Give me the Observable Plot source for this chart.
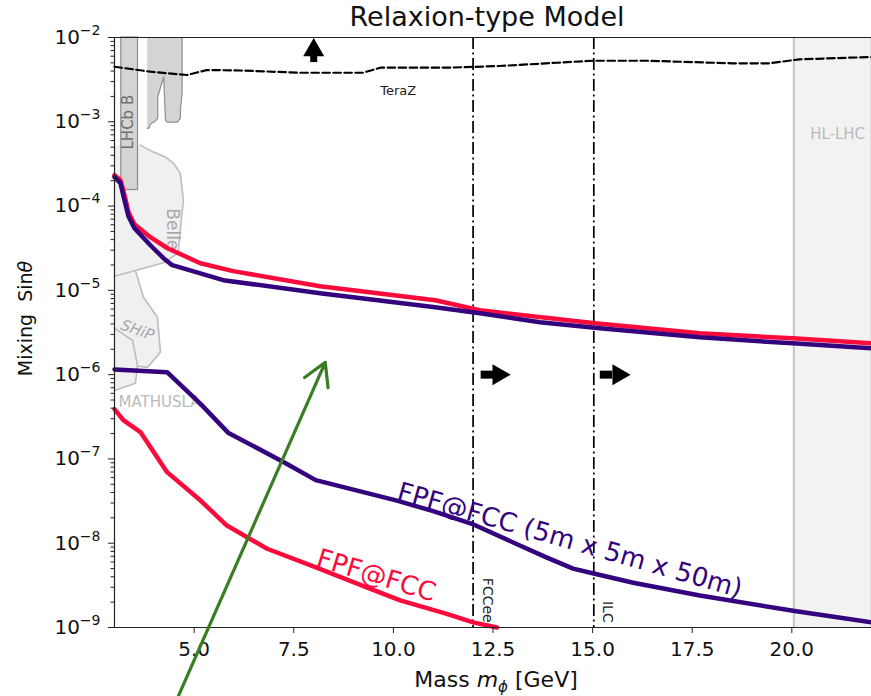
<!DOCTYPE html>
<html><head><meta charset="utf-8">
<script src="https://cdn.jsdelivr.net/npm/d3@7"></script>
<script src="https://cdn.jsdelivr.net/npm/@observablehq/plot@0.6"></script>
<style>body{margin:0;background:#fff;} svg{font-family:"DejaVu Sans";}</style>
</head><body><div id="chart"></div>
<script>
// ---------- data ----------
const titleText = "Relaxion-type Model";
const xDomain = [3, 22];
const yDomain = [1e-9, 1e-2];
const xTicks = [5, 7.5, 10, 12.5, 15, 17.5, 20];
const yMajor = [1e-9, 1e-8, 1e-7, 1e-6, 1e-5, 1e-4, 1e-3, 1e-2];

// FPF@FCC (upper boundary)
const redUpX = [3.0, 3.15, 3.25, 3.35, 3.50, 3.90, 4.33, 5.155, 5.98, 8.16, 11.05, 12.17, 15.06, 17.69, 20.02, 22.0];
const redUpY = [2.33e-4, 2.03e-4, 1.35e-4, 8.47e-5, 6.1e-5, 4.28e-5, 3.16e-5, 2.1e-5, 1.69e-5, 1.12e-5, 7.63e-6, 5.8e-6, 4.07e-6, 3.09e-6, 2.70e-6, 2.35e-6];
// FPF@FCC 5m x 5m x 50m (upper boundary)
const purUpX = [3.0, 3.15, 3.25, 3.35, 3.50, 3.90, 4.23, 4.45, 5.73, 8.16, 11.05, 12.17, 13.68, 15.18, 17.69, 20.02, 22.0];
const purUpY = [2.2e-4, 1.87e-4, 1.17e-4, 7.59e-5, 5.47e-5, 3.43e-5, 2.41e-5, 1.99e-5, 1.32e-5, 9.24e-6, 6.3e-6, 5.35e-6, 4.18e-6, 3.55e-6, 2.77e-6, 2.35e-6, 2.05e-6];
// FPF@FCC (lower boundary)
const redLoX = [3.0, 3.23, 3.65, 4.32, 5.16, 5.82, 6.83, 8.04, 9.33, 10.17, 11.34, 12.0, 12.6];
const redLoY = [3.9e-7, 2.86e-7, 2.08e-7, 6.97e-8, 3.21e-8, 1.62e-8, 8.6e-9, 5.2e-9, 3.0e-9, 2.1e-9, 1.45e-9, 1.15e-9, 1.0e-9];
// FPF@FCC 5m x 5m x 50m (lower boundary)
const purLoX = [3.0, 4.32, 5.16, 5.85, 7.24, 8.05, 10.09, 11.0, 11.97, 13.09, 13.84, 14.51, 15.0, 16.02, 17.69, 20.03, 22.0];
const purLoY = [1.15e-6, 1.07e-6, 4.5e-7, 2.05e-7, 9.2e-8, 5.6e-8, 3.2e-8, 2.4e-8, 1.7e-8, 9.8e-9, 6.8e-9, 5.0e-9, 4.4e-9, 3.4e-9, 2.4e-9, 1.58e-9, 1.15e-9];
// TeraZ
const teraX = [3.0, 3.9, 4.82, 5.32, 6.16, 7.66, 9.24, 9.67, 11.35, 12.67, 14.1, 15.0, 16.36, 18.51, 19.44, 20.19, 22.0];
const teraY = [4.5e-3, 3.93e-3, 3.59e-3, 4.11e-3, 4.06e-3, 3.82e-3, 3.82e-3, 4.38e-3, 4.38e-3, 4.59e-3, 5.02e-3, 5.3e-3, 5.3e-3, 4.94e-3, 4.94e-3, 5.51e-3, 5.87e-3];
// future colliders (vertical lines)
const colliderNames = ["FCCee", "ILC"];
const colliderMass = [12.0, 15.03];
// HL-LHC region
const hlLhcRange = [20.05, 22.0];
// LHCb B
const lhcb1X = [3.17, 3.59];
const lhcb1Y = [1.55e-4, 1e-2];
const lhcb2X = [3.82, 4.697, 4.697, 4.654, 4.654, 4.579, 4.328, 4.278, 4.236, 4.085, 4.085, 4.028, 3.902, 3.86, 3.82];
const lhcb2Y = [1e-2, 1e-2, 2.19e-3, 1.38e-3, 1.11e-3, 9.92e-4, 9.92e-4, 1.05e-3, 3.42e-3, 1.98e-3, 1.11e-3, 1.02e-3, 9.4e-4, 8.36e-4, 8.4e-4];
// Belle / SHiP / MATHUSLA shaded region
const lowFillX = [3.0, 3.65, 3.98, 4.28, 4.48, 4.65, 4.73, 4.65, 4.60, 4.40, 4.28, 3.526, 3.727, 4.078, 4.153, 3.827, 3.60, 3.576, 3.526, 3.0];
const lowFillY = [5.28e-4, 5.28e-4, 4.37e-4, 3.81e-4, 3.24e-4, 2.46e-4, 1.17e-4, 5.17e-5, 2.75e-5, 2.41e-5, 2.16e-5, 1.72e-5, 8.28e-6, 4.8e-6, 1.84e-6, 1.22e-6, 1.26e-6, 1.29e-6, 7.9e-7, 6.5e-7];
const belleX = [3.65, 3.98, 4.28, 4.48, 4.65, 4.73, 4.65, 4.60, 4.40, 4.28, 3.0];
const belleY = [5.28e-4, 4.37e-4, 3.81e-4, 3.24e-4, 2.46e-4, 1.17e-4, 5.17e-5, 2.75e-5, 2.41e-5, 2.16e-5, 1.47e-5];
const shipX = [3.526, 3.727, 4.078, 4.153, 3.827, 3.60];
const shipY = [1.72e-5, 8.28e-6, 4.8e-6, 1.84e-6, 1.22e-6, 1.26e-6];
const mathX = [3.0, 3.451, 3.576, 3.526, 3.0];
const mathY = [3.55e-6, 2.55e-6, 1.29e-6, 7.9e-7, 6.5e-7];
// direction arrows
const upArrow = {x: 8.0, shaftFrom: 5.11e-3, shaftTo: 6.05e-3, head: 7.09e-3};
const rightArrowsY = 1.0e-6;
const rightShaftFrom = [12.19, 15.18];
const rightShaftTo = [12.5, 15.49];
const rightHead = [12.64, 15.65];
// green annotation arrow
const greenFrom = [4.554, 1.36e-10];
const greenTo = [8.29, 1.4e-6];

// ---------- build ----------
const zip = (xs, ys, extra = {}) => xs.map((x, i) => ({x, y: ys[i], ...extra}));
const red = "#fb0a3c", purple = "#33047d";
const expFmt = d => "10^" + String(Math.round(Math.log10(d))).replace("-", "\u2212");
const yMinor = [];
for (let k = -9; k < -2; k++) for (let m = 2; m <= 9; m++) yMinor.push(m * Math.pow(10, k));

const outlines = [...zip(belleX, belleY, {id: "belle"}), ...zip(shipX, shipY, {id: "ship"}), ...zip(mathX, mathY, {id: "math"})];

const chart = Plot.plot({
  width: 871, height: 696,
  marginLeft: 114, marginRight: 0, marginTop: 37, marginBottom: 69,
  x: {domain: xDomain},
  y: {type: "log", domain: yDomain},
  style: {fontFamily: "DejaVu Sans", background: "white", color: "black", overflow: "visible"},
  marks: [
    // HL-LHC
    Plot.rect([hlLhcRange], {x1: d => d[0], x2: d => d[1], fill: "#f2f2f2"}),
    Plot.ruleX([hlLhcRange[0]], {stroke: "#c4c4c4", strokeWidth: 2}),
    Plot.ruleX([hlLhcRange[1]], {stroke: "#cccccc", strokeWidth: 2}),
    // Belle / SHiP / MATHUSLA
    Plot.line(zip(lowFillX, lowFillY), {x: "x", y: "y", fill: "#f0f0f0", stroke: null}),
    Plot.line(outlines, {x: "x", y: "y", z: "id", stroke: "#bdbdbd", strokeWidth: 1.6}),
    // LHCb B
    Plot.rect([{x1: lhcb1X[0], x2: lhcb1X[1], y1: lhcb1Y[0], y2: lhcb1Y[1]}], {x1: "x1", x2: "x2", y1: "y1", y2: "y2", fill: "#d4d4d4", stroke: "#8e8e8e", strokeWidth: 1.2}),
    Plot.line(zip(lhcb2X, lhcb2Y), {x: "x", y: "y", fill: "#d4d4d4", stroke: "#8e8e8e", strokeWidth: 1.2}),
    // region labels
    Plot.text([{x: 3.35, y: 9.9e-4, t: "LHCb B"}], {x: "x", y: "y", text: "t", rotate: -90, fontSize: 15, fill: "#6f6f6f"}),
    Plot.text([{x: 4.45, y: 5.3e-5, t: "Belle"}], {x: "x", y: "y", text: "t", rotate: 90, fontSize: 17, fill: "#a8a8a8"}),
    Plot.text([{x: 3.576, y: 3.36e-6, t: "SHiP"}], {x: "x", y: "y", text: "t", rotate: 20, fontSize: 15, fontStyle: "italic", fill: "#a8a8a8"}),
    Plot.text([{x: 3.1, y: 4.69e-7, t: "MATHUSLA"}], {x: "x", y: "y", text: "t", textAnchor: "start", fontSize: 15, fill: "#bbb"}),
    Plot.text([{x: 21.15, y: 7.15e-4, t: "HL-LHC"}], {x: "x", y: "y", text: "t", fontSize: 15, fill: "#bbb"}),
    Plot.text([{x: 10.12, y: 2.32e-3, t: "TeraZ"}], {x: "x", y: "y", text: "t", fontSize: 13, fill: "#222"}),
    // TeraZ dashed
    Plot.line(zip(teraX, teraY), {x: "x", y: "y", stroke: "black", strokeWidth: 2.2, strokeDasharray: "7.5,3.5"}),
    // collider lines
    Plot.ruleX(colliderMass, {stroke: "black", strokeWidth: 1.7, strokeDasharray: "12,3.5,2,3.5"}),
    Plot.text(colliderNames, {x: (d, i) => colliderMass[i] + 0.35, y: () => 1.14e-9, text: d => d, rotate: 90, textAnchor: "end", lineAnchor: "middle", fontSize: 14, fill: "#222"}),
    // curves
    Plot.line(zip(redUpX, redUpY), {x: "x", y: "y", stroke: red, strokeWidth: 4.5}),
    Plot.line(zip(purUpX, purUpY), {x: "x", y: "y", stroke: purple, strokeWidth: 4.5}),
    Plot.line(zip(redLoX, redLoY), {x: "x", y: "y", stroke: red, strokeWidth: 4.5}),
    Plot.line(zip(purLoX, purLoY), {x: "x", y: "y", stroke: purple, strokeWidth: 4.5}),
    Plot.text([{x: 14.43, y: 1.08e-8, t: "FPF@FCC (5m x 5m x 50m)"}], {x: "x", y: "y", text: "t", rotate: 16, fontSize: 26, fill: purple}),
    Plot.text([{x: 9.57, y: 4.13e-9, t: "FPF@FCC"}], {x: "x", y: "y", text: "t", rotate: 17, fontSize: 26, fill: red}),
    // black arrows
    Plot.link([upArrow], {x1: "x", x2: "x", y1: "shaftFrom", y2: "shaftTo", stroke: "black", strokeWidth: 7}),
    Plot.dot([upArrow], {x: "x", y: "head", symbol: "triangle", r: 7.8, fill: "black", stroke: null}),
    Plot.link(rightShaftFrom, {x1: d => d, x2: (d, i) => rightShaftTo[i], y1: () => rightArrowsY, y2: () => rightArrowsY, stroke: "black", strokeWidth: 8}),
    Plot.dot(rightHead, {x: d => d, y: () => rightArrowsY, symbol: "triangle", r: 7.8, rotate: 90, fill: "black", stroke: null}),
    // frame
    Plot.ruleY([yDomain[1]], {stroke: "#222", strokeWidth: 1.2}),
    Plot.ruleY([yDomain[0]], {stroke: "#222", strokeWidth: 1.2}),
    Plot.ruleX([xDomain[0]], {stroke: "#222", strokeWidth: 1.2}),
    // axes
    Plot.axisY({ticks: yMajor, tickFormat: expFmt, tickSize: 6, tickPadding: 8, fontSize: 20, label: null, stroke: "#222", fill: "#111"}),
    Plot.axisY({ticks: yMinor, tickFormat: () => "", tickSize: 3.5, label: null, stroke: "#222"}),
    Plot.axisX({ticks: xTicks, tickFormat: d3.format(".1f"), tickSize: 6, tickPadding: 8, fontSize: 20, label: null, stroke: "#222", fill: "#111"}),
    // green annotation arrow
    Plot.arrow([{x1: greenFrom[0], y1: greenFrom[1], x2: greenTo[0], y2: greenTo[1]}], {x1: "x1", y1: "y1", x2: "x2", y2: "y2", stroke: "#3a7d22", strokeWidth: 3.2, headLength: 12}),
    // titles
    Plot.text([titleText], {frameAnchor: "top", dy: -20, dx: -6, fontSize: 27, lineAnchor: "middle", fill: "#111"}),
    Plot.text(["Mass mϕ [GeV]"], {frameAnchor: "bottom", dy: 52, dx: 3, fontSize: 22, lineAnchor: "middle", fill: "#111"}),
    Plot.text(["Mixing  Sinθ"], {frameAnchor: "left", dx: -89, dy: -14, rotate: -90, fontSize: 19, textAnchor: "middle", lineAnchor: "middle", fill: "#111"})
  ]
});
document.getElementById("chart").appendChild(chart);

// superscript exponents on y tick labels
d3.select(chart).selectAll("text").filter(function () { return /^10\^/.test(this.textContent); })
  .each(function () {
    const exp = this.textContent.slice(3);
    const t = d3.select(this); t.text("");
    t.append("tspan").text("10");
    t.append("tspan").attr("font-size", 14).attr("dy", -9).text(exp);
  });
// rich text for axis labels
d3.select(chart).selectAll("text").filter(function () { return this.textContent === "Mass mϕ [GeV]"; })
  .each(function () {
    const t = d3.select(this); t.text("");
    t.append("tspan").text("Mass ");
    t.append("tspan").attr("font-style", "italic").text("m");
    t.append("tspan").attr("font-style", "italic").attr("font-size", 15).attr("dy", 5).text("ϕ");
    t.append("tspan").attr("dy", -5).text("\u00a0[GeV]");
  });
d3.select(chart).selectAll("text").filter(function () { return this.textContent === "Mixing  Sinθ"; })
  .each(function () {
    const t = d3.select(this); t.text("");
    t.append("tspan").text("Mixing\u00a0\u00a0Sin");
    t.append("tspan").attr("font-style", "italic").text("θ");
  });
</script></body></html>
